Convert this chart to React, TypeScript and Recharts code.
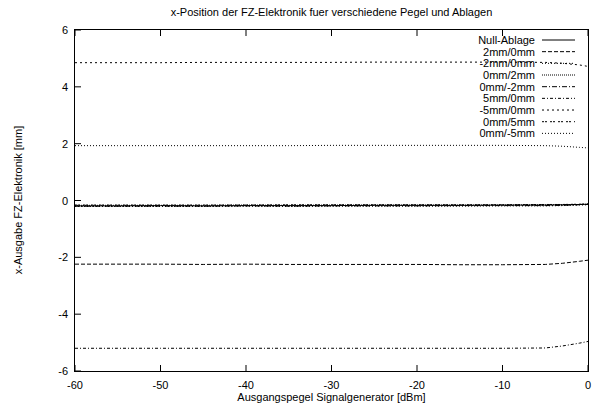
import React from 'react';
import { LineChart, Line, XAxis, YAxis } from 'recharts';

// Generator output level in dBm
const levels = [-60, -55, -50, -45, -40, -35, -30, -25, -20, -15, -10, -5, -3, -1, 0];

// x output of the FZ electronics [mm] for each offset setting
const nullAblage = [-0.19, -0.19, -0.18, -0.19, -0.18, -0.18, -0.18, -0.17, -0.17, -0.17, -0.16, -0.16, -0.15, -0.14, -0.13];
const x2mm0mm = [-2.24, -2.24, -2.24, -2.25, -2.24, -2.25, -2.25, -2.25, -2.25, -2.26, -2.26, -2.25, -2.21, -2.14, -2.1];
const xm2mm0mm = [1.93, 1.93, 1.93, 1.93, 1.93, 1.93, 1.94, 1.94, 1.94, 1.94, 1.94, 1.93, 1.91, 1.87, 1.85];
const x0mm2mm = [-0.17, -0.17, -0.17, -0.17, -0.16, -0.17, -0.16, -0.16, -0.16, -0.16, -0.16, -0.15, -0.15, -0.14, -0.13];
const x0mmm2mm = [-0.2, -0.2, -0.2, -0.2, -0.19, -0.2, -0.19, -0.19, -0.19, -0.18, -0.18, -0.18, -0.17, -0.15, -0.14];
const x5mm0mm = [-5.2, -5.2, -5.2, -5.2, -5.2, -5.2, -5.2, -5.2, -5.2, -5.2, -5.2, -5.19, -5.12, -5.02, -4.96];
const xm5mm0mm = [4.85, 4.85, 4.85, 4.86, 4.86, 4.86, 4.86, 4.87, 4.87, 4.87, 4.87, 4.86, 4.83, 4.77, 4.72];
const x0mm5mm = [-0.16, -0.16, -0.16, -0.16, -0.16, -0.15, -0.15, -0.15, -0.15, -0.15, -0.15, -0.14, -0.14, -0.13, -0.12];
const x0mmm5mm = [-0.21, -0.21, -0.21, -0.21, -0.2, -0.21, -0.2, -0.2, -0.2, -0.2, -0.19, -0.19, -0.18, -0.16, -0.15];

const xTicks = [-60, -50, -40, -30, -20, -10, 0];
const yTicks = [-6, -4, -2, 0, 2, 4, 6];

const series = [
  { key: 'nullAblage', name: 'Null-Ablage', values: nullAblage, dash: undefined as string | undefined },
  { key: 'x2mm0mm', name: '2mm/0mm', values: x2mm0mm, dash: '4 2' },
  { key: 'xm2mm0mm', name: '-2mm/0mm', values: xm2mm0mm, dash: '1 2' },
  { key: 'x0mm2mm', name: '0mm/2mm', values: x0mm2mm, dash: '1 1' },
  { key: 'x0mmm2mm', name: '0mm/-2mm', values: x0mmm2mm, dash: '5 2 1 2' },
  { key: 'x5mm0mm', name: '5mm/0mm', values: x5mm0mm, dash: '3 2 1 2' },
  { key: 'xm5mm0mm', name: '-5mm/0mm', values: xm5mm0mm, dash: '2 3' },
  { key: 'x0mm5mm', name: '0mm/5mm', values: x0mm5mm, dash: '2 1 2 3' },
  { key: 'x0mmm5mm', name: '0mm/-5mm', values: x0mmm5mm, dash: '1 2' },
];

const data = levels.map((lvl, i) => {
  const row: Record<string, number> = { level: lvl };
  series.forEach((s) => {
    row[s.key] = s.values[i];
  });
  return row;
});

const FONT = '"Liberation Sans", Arial, Helvetica, sans-serif';
const TICK_LEN = 6;

// Inward tick marks are drawn as thin filled rects
const BottomTick = (props: any) => {
  const { x, y, payload } = props;
  return (
    <g>
      <rect x={x - 0.5} y={y - TICK_LEN} width={1} height={TICK_LEN} fill="#000" />
      <text x={x} y={y + 18} textAnchor="middle" fontSize={11} fontFamily={FONT} fill="#000">
        {payload.value}
      </text>
    </g>
  );
};

const TopTick = (props: any) => {
  const { x, y } = props;
  return (
    <g>
      <rect x={x - 0.5} y={y} width={1} height={TICK_LEN} fill="#000" />
    </g>
  );
};

const LeftTick = (props: any) => {
  const { x, y, payload } = props;
  return (
    <g>
      <rect x={x} y={y - 0.5} width={TICK_LEN} height={1} fill="#000" />
      <text x={x - 7} y={y + 4} textAnchor="end" fontSize={11} fontFamily={FONT} fill="#000">
        {payload.value}
      </text>
    </g>
  );
};

const RightTick = (props: any) => {
  const { x, y } = props;
  return (
    <g>
      <rect x={x - TICK_LEN} y={y - 0.5} width={TICK_LEN} height={1} fill="#000" />
    </g>
  );
};

// Key in the upper right corner of the plot, gnuplot style (no frame, no background)
const KeyBox = () => (
  <svg
    width={150}
    height={112}
    style={{ position: 'absolute', left: 440, top: 30, overflow: 'visible', pointerEvents: 'none' }}
  >
    {series.map((s, i) => {
      const cy = 10 + i * 11.67;
      return (
        <g key={s.key}>
          <text x={95} y={cy + 4} textAnchor="end" fontSize={11} fontFamily={FONT} fill="#000">
            {s.name}
          </text>
          <line x1={102} y1={cy} x2={135} y2={cy} stroke="#000" strokeWidth={1} strokeDasharray={s.dash} />
        </g>
      );
    })}
  </svg>
);

const textStyle: React.CSSProperties = {
  position: 'absolute',
  textAlign: 'center',
  fontSize: 11,
  fontFamily: FONT,
  lineHeight: '14px',
  color: '#000',
};

export default function App() {
  return (
    <div style={{ position: 'absolute', left: 0, top: 0, width: 592, height: 414, background: '#fff' }}>
      <div style={{ ...textStyle, left: 0, top: 5, width: 663 }}>
        x-Position der FZ-Elektronik fuer verschiedene Pegel und Ablagen
      </div>
      <div style={{ ...textStyle, left: 0, top: 390, width: 663 }}>Ausgangspegel Signalgenerator [dBm]</div>
      <div style={{ ...textStyle, left: -182, top: 193, width: 400, transform: 'rotate(-90deg)' }}>
        x-Ausgabe FZ-Elektronik [mm]
      </div>
      <LineChart width={592} height={414} data={data} margin={{ top: 29, right: 3, bottom: 0, left: 0 }}>
        <XAxis
          dataKey="level"
          type="number"
          domain={[-60, 0]}
          ticks={xTicks}
          interval={0}
          height={43}
          tickSize={0}
          tickMargin={0}
          tickLine={false}
          axisLine={false}
          tick={<BottomTick />}
        />
        <XAxis
          xAxisId="top"
          dataKey="level"
          type="number"
          orientation="top"
          domain={[-60, 0]}
          ticks={xTicks}
          interval={0}
          height={1}
          tickSize={0}
          tickMargin={0}
          tickLine={false}
          axisLine={false}
          tick={<TopTick />}
        />
        <YAxis
          type="number"
          domain={[-6, 6]}
          ticks={yTicks}
          interval={0}
          width={75}
          tickSize={0}
          tickMargin={0}
          tickLine={false}
          axisLine={false}
          tick={<LeftTick />}
        />
        <YAxis
          yAxisId="right"
          type="number"
          orientation="right"
          domain={[-6, 6]}
          ticks={yTicks}
          interval={0}
          width={1}
          tickSize={0}
          tickMargin={0}
          tickLine={false}
          axisLine={false}
          tick={<RightTick />}
        />
        {series.map((s) => (
          <Line
            key={s.key}
            dataKey={s.key}
            name={s.name}
            type="linear"
            stroke="#000"
            strokeWidth={1}
            strokeDasharray={s.dash}
            dot={false}
            activeDot={false}
            isAnimationActive={false}
          />
        ))}
      </LineChart>
      {/* plot frame */}
      <div
        style={{
          position: 'absolute',
          left: 74,
          top: 29,
          width: 513,
          height: 341,
          border: '1px solid #000',
          pointerEvents: 'none',
        }}
      />
      <KeyBox />
    </div>
  );
}
